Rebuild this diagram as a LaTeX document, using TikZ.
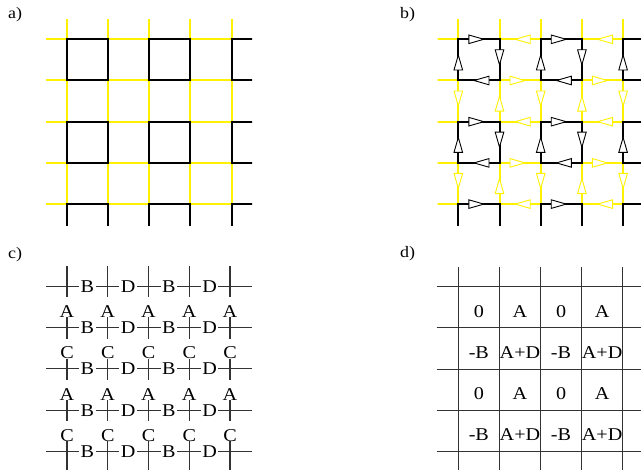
\documentclass[tikz,border=0pt]{standalone}
\usepackage{graphicx}
\usepackage{fontspec}
\setmainfont{Liberation Serif}
\newcommand\sx[1]{\scalebox{1.12}[1]{#1}}
\tikzset{
  yel/.style={line width=2pt, draw=yellow},
  blk/.style={line width=2pt, draw=black, line cap=rect},
  tri/.style={line width=0.9pt, fill=white, line join=miter},
  lab/.style={font=\fontsize{16}{16}\selectfont, anchor=base west, inner sep=0pt},
  thinl/.style={line width=1.1pt, draw=black!80},
  hlab/.style={font=\fontsize{18}{18}\selectfont, fill=white, inner xsep=1.5pt, inner ysep=2pt, anchor=center},
  vlab/.style={font=\fontsize{18}{18}\selectfont, fill=white, anchor=base, text height=20pt, text depth=0pt, inner ysep=0pt, inner xsep=1pt},
  cell/.style={font=\fontsize{18}{18}\selectfont, anchor=base, inner sep=0pt},
}
\begin{document}
\begin{tikzpicture}[x=1pt,y=-1pt]
\useasboundingbox (0,0) rectangle (641,470);
\fill[white] (0,0) rectangle (641,470);

\node[lab] (la) at (8,18.3) {\sx{a)}};
\node[lab] (lb) at (400,18.3) {\sx{b)}};
\node[lab] (lc) at (8,258.5) {\sx{c)}};
\node[lab] (ld) at (400,257.5) {\sx{d)}};

% panels a and b
\foreach \ox/\ar in {66.7/0,458.3/1}{
\begin{scope}
\clip ({\ox-20.6},19.3) rectangle ({\ox+185.4},225.4);
\foreach \a in {0,...,4}{\foreach \b in {-1,...,4}{
  \pgfmathtruncatemacro\p{mod(\b+2,2)}
  \ifnum\p=1
    \draw[yel] ({\b*41.2+\ox},{\a*41.2+39.3}) -- ++(41.2,0);
    \draw[yel] ({\a*41.2+\ox},{\b*41.2+39.3}) -- ++(0,41.2);
  \fi}}
\foreach \a in {0,...,4}{\foreach \b in {-1,...,4}{
  \pgfmathtruncatemacro\p{mod(\b+2,2)}
  \ifnum\p=0
    \draw[blk] ({\b*41.2+\ox},{\a*41.2+39.3}) -- ++(41.2,0);
    \draw[blk] ({\a*41.2+\ox},{\b*41.2+39.3}) -- ++(0,41.2);
  \fi}}
\ifnum\ar=1
  \foreach \a in {0,...,4}{\foreach \b in {0,...,3}{
    \pgfmathtruncatemacro\p{mod(\b,2)}
    \pgfmathtruncatemacro\q{mod(\a+\b,2)}
    \ifnum\p=0 \def\ecol{black}\else\def\ecol{yellow}\fi
    \ifnum\q=0 \def\dr{1}\else\def\dr{-1}\fi
    \pgfmathsetmacro\mx{\b*41.2+20.6+\ox}
    \pgfmathsetmacro\my{\a*41.2+39.3}
    \filldraw[tri,draw=\ecol] ({\mx+4.9*(\dr)},\my) -- ({\mx-10.1*(\dr)},{\my-4.3}) -- ({\mx-10.1*(\dr)},{\my+4.3}) -- cycle;
    \pgfmathsetmacro\vx{\a*41.2+\ox}
    \pgfmathsetmacro\vy{\b*41.2+20.6+39.3}
    \filldraw[tri,draw=\ecol] (\vx,{\vy-4.9*(\dr)}) -- ({\vx-4.3},{\vy+10.1*(\dr)}) -- ({\vx+4.3},{\vy+10.1*(\dr)}) -- cycle;
  }}
\fi
\end{scope}
}

% panel c
\foreach \j in {0,...,4}{
  \draw[thinl] (46,{\j*41.3+286.3}) -- (251.7,{\j*41.3+286.3});
}
\foreach \i in {0,...,4}{
  \draw[thinl] ({\i*40.75+67},266) -- ({\i*40.75+67},472);
}
\foreach \j in {0,...,4}{\foreach \i in {0,...,3}{
  \pgfmathtruncatemacro\p{mod(\i,2)}
  \ifnum\p=0 \def\ltxt{B}\else\def\ltxt{D}\fi
  \node[hlab] (h-\i-\j) at ({\i*40.75+87.375},{\j*41.3+286.3}) {\sx{\ltxt}};
}}
\foreach \i in {0,...,4}{\foreach \j in {0,...,3}{
  \pgfmathtruncatemacro\p{mod(\j,2)}
  \ifnum\p=0 \def\ltxt{A}\else\def\ltxt{C}\fi
  \node[vlab] (v-\i-\j) at ({\i*40.75+67},{\j*41.3+286.3+20.65+10.5}) {\sx{\ltxt}};
}}

% panel d
\foreach \i in {0,...,4}{
  \draw[thinl] ({\i*41.1+458.3},266.7) -- ({\i*41.1+458.3},472);
}
\foreach \j in {0,...,4}{
  \draw[thinl] (436.7,{\j*41.25+286.7}) -- (645,{\j*41.25+286.7});
}
\foreach \r in {0,...,3}{\foreach \c in {0,...,3}{
  \pgfmathtruncatemacro\p{mod(\r,2)}
  \pgfmathtruncatemacro\q{mod(\c,2)}
  \ifnum\p=0
    \ifnum\q=0 \def\ltxt{0}\else\def\ltxt{A}\fi
  \else
    \ifnum\q=0 \def\ltxt{-B}\else\def\ltxt{A+D}\fi
  \fi
  \node[cell] (d-\r-\c) at ({\c*41.1+478.85},{\r*41.25+307.3+9.8}) {\sx{\ltxt}};
}}
\end{tikzpicture}
\end{document}
